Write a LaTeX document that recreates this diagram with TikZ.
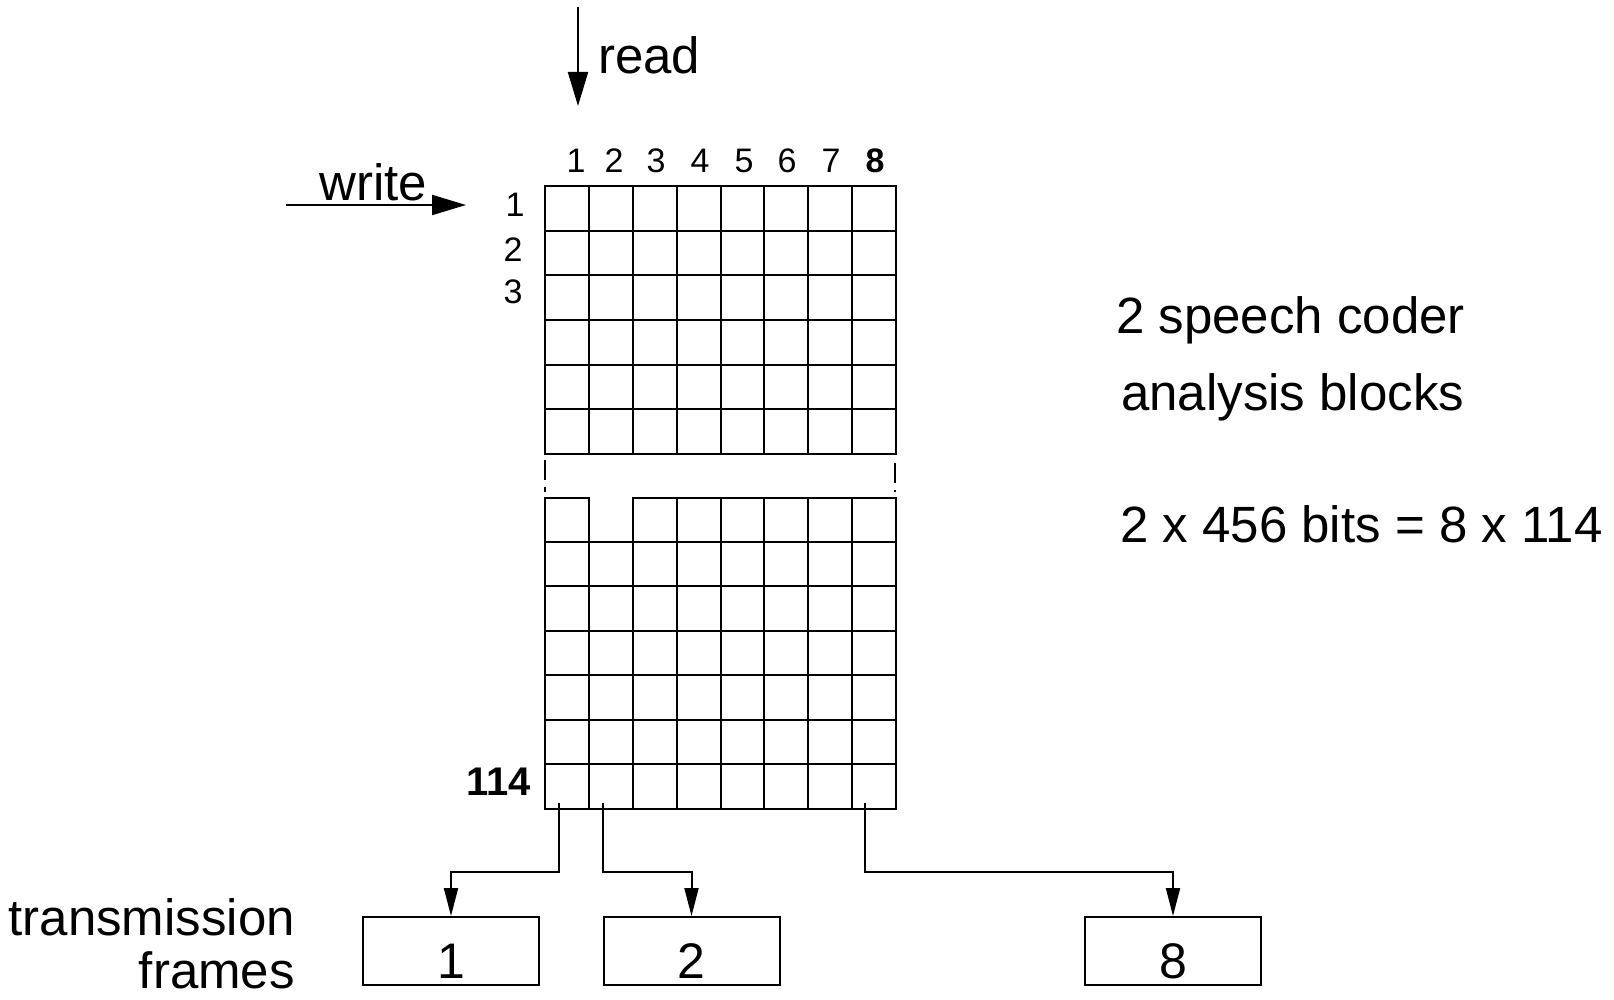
\documentclass[tikz,border=0pt]{standalone}
\usepackage{fontspec}
\setmainfont{Liberation Sans}
\usetikzlibrary{arrows.meta}
\begin{document}
\begin{tikzpicture}[x=1pt,y=-1pt,
  gridline/.style={line width=2pt, line cap=rect},
  big/.style={font=\fontsize{51}{61}\selectfont, inner sep=0pt},
  idx/.style={font=\fontsize{34}{40}\selectfont, inner sep=0pt},
  bigarrow/.style={line width=2pt, -{Triangle[length=34pt,width=20pt]}},
  conn/.style={line width=2pt, -{Triangle[length=28pt,width=14pt]}},
  framebox/.style={draw, line width=2pt, minimum width=176pt, minimum height=68pt,
    text height=54pt, text depth=0pt, inner sep=0pt, font=\fontsize{50}{60}\selectfont},
  breakline/.style={line width=2pt, dash pattern=on 20pt off 7pt on 5pt off 20pt},
]
\useasboundingbox (0,0) rectangle (1614,1000);

% read / write directions
\coordinate (rd0) at (578,7);
\coordinate (rd1) at (578,106);
\draw[bigarrow] (rd0) -- (rd1);
\node[big, anchor=base west] (readlbl) at (598,74) {read};

\coordinate (wr0) at (286,205);
\coordinate (wr1) at (466,205);
\draw[bigarrow] (wr0) -- (wr1);
\node[big, anchor=base west] (writelbl) at (319,201) {write};

% column indices
\foreach \x/\t [count=\k] in {576/1,614/2,656/3,700/4,744/5,787/6,831/7}
  \node[idx, anchor=base] (col\k) at (\x,172.5) {\t};
\node[idx, font=\bfseries\fontsize{34}{40}\selectfont, anchor=base] (col8) at (875,172.5) {8};

% row indices
\node[idx, anchor=base] (row1) at (515,217) {1};
\node[idx, anchor=base] (row2) at (513,262) {2};
\node[idx, anchor=base] (row3) at (513,303) {3};
\node[idx, font=\bfseries\fontsize{40}{46}\selectfont, anchor=base east] (row114) at (531,795) {114};

% upper part of the interleaving matrix
\foreach \i in {0,...,8}
  \draw[gridline] ({545+\i*43.875},186.5) -- ({545+\i*43.875},453.5);
\foreach \j in {0,...,6}
  \draw[gridline] (545,{186.5+\j*44.5}) -- (896,{186.5+\j*44.5});

% break marks
\draw[breakline] (545,460) -- (545,492);
\draw[breakline] (895,463) -- (895,492);

% lower part of the interleaving matrix
\foreach \i in {0,...,8}
  \draw[gridline] ({545+\i*43.875},497.5) -- ({545+\i*43.875},808.5);
\foreach \j in {1,...,7}
  \draw[gridline] (545,{497.5+\j*44.4286}) -- (896,{497.5+\j*44.4286});
\draw[gridline] (545,497.5) -- (588.875,497.5);
\draw[gridline] (632.75,497.5) -- (896,497.5);

% explanation
\node[big, anchor=base west] (txa) at (1116,333) {2 speech coder};
\node[big, anchor=base west] (txb) at (1121,410) {analysis blocks};
\node[big, anchor=base west] (txc) at (1120,542) {2 x 456 bits = 8 x 114};

% transmission frames
\node[big, anchor=base east] (tf1) at (295,935) {transmission};
\node[big, anchor=base east] (tf2) at (295,988) {frames};

\node[framebox] (f1) at (451,951) {1};
\node[framebox] (f2) at (691.5,951) {2};
\node[framebox] (f8) at (1173,951) {8};

\coordinate (s1) at (559,803);
\coordinate (s2) at (603,803);
\coordinate (s8) at (865,803);
\coordinate (bend) at (0,872);
\draw[conn] (s1) -- (s1 |- bend) -| (f1.north);
\draw[conn] (s2) -- (s2 |- bend) -| (f2.north);
\draw[conn] (s8) -- (s8 |- bend) -| (f8.north);
\end{tikzpicture}
\end{document}
